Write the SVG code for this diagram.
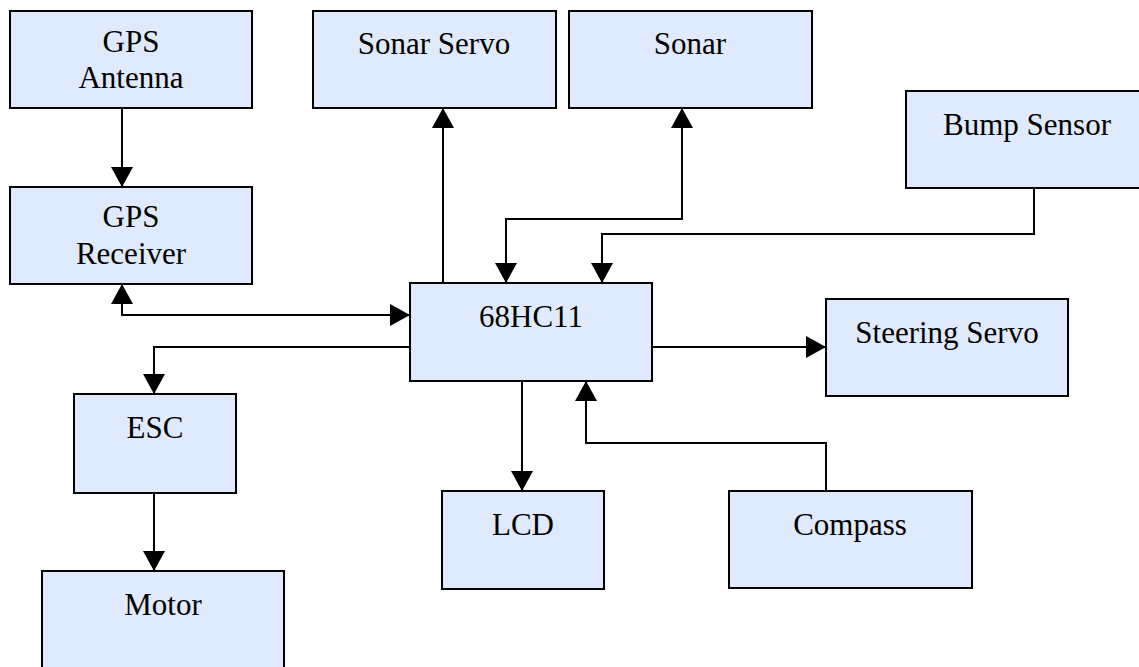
<svg xmlns="http://www.w3.org/2000/svg" width="1139" height="667" viewBox="0 0 1139 667">
<style>
.box{fill:#DFEAFC;stroke:#000;stroke-width:2}
.lbl{font-family:"Liberation Serif","Times New Roman",serif;font-size:31px;fill:#000;text-anchor:middle}
.con{fill:none;stroke:#000;stroke-width:2}
</style>
<defs>
<marker id="ah" markerUnits="userSpaceOnUse" markerWidth="22" markerHeight="22" viewBox="0 0 20 22" refX="20" refY="11" orient="auto-start-reverse">
<path d="M0,0 L20,11 L0,22 Z" fill="#000"/>
</marker>
</defs>
<rect width="1139" height="667" fill="#fff"/>
<g id="connectors">
<path class="con" d="M122,108 V187" marker-end="url(#ah)"/>
<path class="con" d="M122,284 V315 H410" marker-start="url(#ah)" marker-end="url(#ah)"/>
<path class="con" d="M443,283 V108" marker-end="url(#ah)"/>
<path class="con" d="M682,108 V219 H506 V283" marker-start="url(#ah)" marker-end="url(#ah)"/>
<path class="con" d="M1034,189 V234 H602 V283" marker-end="url(#ah)"/>
<path class="con" d="M410,347 H154 V394" marker-end="url(#ah)"/>
<path class="con" d="M154,493 V571" marker-end="url(#ah)"/>
<path class="con" d="M652,347 H826" marker-end="url(#ah)"/>
<path class="con" d="M522,381 V491" marker-end="url(#ah)"/>
<path class="con" d="M826,491 V443 H586 V381" marker-end="url(#ah)"/>
</g>
<g id="gps-antenna"><rect class="box" x="10" y="11" width="242" height="97"/><text class="lbl" x="131" y="52">GPS</text><text class="lbl" x="131" y="88">Antenna</text></g>
<g id="gps-receiver"><rect class="box" x="10" y="187" width="242" height="97"/><text class="lbl" x="131" y="227">GPS</text><text class="lbl" x="131" y="264">Receiver</text></g>
<g id="sonar-servo"><rect class="box" x="313" y="11" width="243" height="97"/><text class="lbl" x="434" y="54">Sonar Servo</text></g>
<g id="sonar"><rect class="box" x="569" y="11" width="243" height="97"/><text class="lbl" x="690" y="54">Sonar</text></g>
<g id="bump-sensor"><rect class="box" x="906" y="91" width="243" height="97"/><text class="lbl" x="1027" y="135">Bump Sensor</text></g>
<g id="mcu"><rect class="box" x="410" y="283" width="242" height="98"/><text class="lbl" x="531" y="327">68HC11</text></g>
<g id="steering-servo"><rect class="box" x="826" y="299" width="242" height="97"/><text class="lbl" x="947" y="343">Steering Servo</text></g>
<g id="esc"><rect class="box" x="74" y="394" width="162" height="99"/><text class="lbl" x="155" y="438">ESC</text></g>
<g id="motor"><rect class="box" x="42" y="571" width="242" height="100"/><text class="lbl" x="163" y="615">Motor</text></g>
<g id="lcd"><rect class="box" x="442" y="491" width="162" height="98"/><text class="lbl" x="523" y="535">LCD</text></g>
<g id="compass"><rect class="box" x="729" y="491" width="243" height="97"/><text class="lbl" x="850" y="535">Compass</text></g>
</svg>
